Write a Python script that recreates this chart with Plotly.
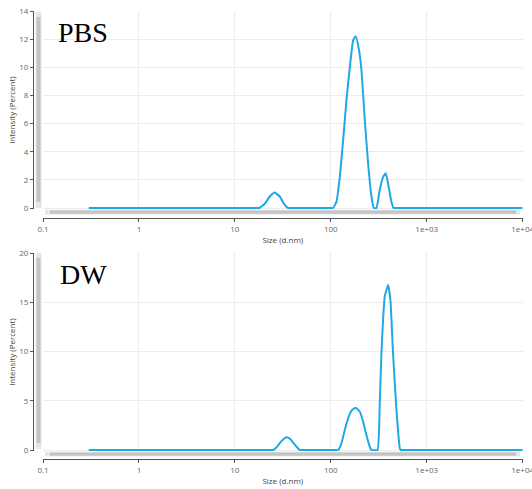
import plotly.graph_objects as go

# Size distribution by intensity (DLS), two dispersion media
pbs_size = [0.3, 16.5, 18, 20.5, 23, 26, 29.5, 32.5, 36, 39, 97, 105.6, 114.6, 124.1,
            134.4, 145.8, 157.8, 170.8, 182, 197.1, 208.9, 226.1, 244.7, 265.5,
            280.5, 299.3, 323.9, 350.6, 374.1, 395.3, 428.2, 452.6, 490, 10000]
pbs_int = [0, 0, 0, 0.3, 0.8, 1.1, 0.8, 0.3, 0, 0, 0, 0, 0.45, 2.2,
           4.8, 7.7, 10.0, 11.9, 12.2, 11.2, 9.8, 6.25, 3.2, 0.8,
           0, 0, 1.3, 2.2, 2.47, 1.75, 0.45, 0, 0, 0]

dw_size = [0.3, 23, 25.1, 27.4, 29.4, 32.0, 34.6, 37.4, 40.6, 44.2, 47.5, 51,
           110, 119.1, 129.1, 139.9, 151.5, 164.3, 182.0, 200.4, 217.0, 235.4,
           254.8, 265.5, 306.4, 323.6, 337.3, 350.6, 365.2, 395.3, 418.6, 445.6,
           483.5, 523.6, 535.9, 580, 10000]
dw_int = [0, 0, 0, 0.3, 0.7, 1.1, 1.29, 1.15, 0.75, 0.3, 0, 0,
          0, 0, 0.68, 2.03, 3.2, 4.0, 4.3, 3.9, 2.9, 1.5,
          0.35, 0, 0, 4.7, 9.8, 13.2, 15.6, 16.75, 15.2, 9.8,
          4.1, 0.2, 0, 0, 0]

x_tickvals = [0.1, 1, 10, 100, 1000, 10000]
x_ticktext = ["0.1", "1", "10", "100", "1e+03", "1e+04"]
pbs_yticks = [0, 2, 4, 6, 8, 10, 12, 14]
dw_yticks = [0, 5, 10, 15, 20]

W, H = 532, 489
LINE = "#1fa9e4"
GRID = "#ececec"
TICKFONT = dict(family="Open Sans, sans-serif", size=8, color="#666666")
TITLEFONT = dict(family="Open Sans, sans-serif", size=8, color="#444444")


def px(x):
    return x / W


def py(y):
    return 1 - y / H


fig = go.Figure()
fig.add_trace(go.Scatter(x=pbs_size, y=pbs_int, mode="lines", xaxis="x", yaxis="y",
                         line=dict(color=LINE, width=2, shape="spline", smoothing=0.4),
                         showlegend=False))
fig.add_trace(go.Scatter(x=dw_size, y=dw_int, mode="lines", xaxis="x2", yaxis="y2",
                         line=dict(color=LINE, width=2, shape="spline", smoothing=0.4),
                         showlegend=False))

xdom = [px(43), px(522.7)]
common_x = dict(type="log", range=[-1, 4.0005], domain=xdom, tickvals=x_tickvals,
                ticktext=x_ticktext, showgrid=True, gridcolor=GRID, gridwidth=1,
                zeroline=False, showline=True, linecolor="#555555", linewidth=1,
                ticks="outside", ticklen=3, tickcolor="#555555", tickfont=TICKFONT,
                ticklabeloverflow="allow", anchor="free", automargin=False,
                title=dict(text="Size (d.nm)", font=TITLEFONT, standoff=4))
common_y = dict(showgrid=True, gridcolor=GRID, gridwidth=1, zeroline=False,
                showline=True, linecolor="#555555", linewidth=1, ticks="outside",
                ticklen=3, tickcolor="#555555", tickfont=TICKFONT, anchor="free",
                position=px(33), automargin=False,
                title=dict(text="Intensity (Percent)", font=TITLEFONT, standoff=1))

# plot areas reach ~1.2 px below the zero line so the baseline is not clipped
fig.update_layout(
    width=W, height=H,
    margin=dict(l=0, r=0, t=0, b=0),
    paper_bgcolor="white", plot_bgcolor="white",
    xaxis=dict(common_x, position=py(218)),
    yaxis=dict(common_y, domain=[py(209.2), py(11)], range=[-0.085, 14],
               tickvals=pbs_yticks),
    xaxis2=dict(common_x, position=py(459)),
    yaxis2=dict(common_y, domain=[py(451.2), py(253)], range=[-0.122, 20],
                tickvals=dw_yticks),
)

# scrollbars of the viewer
shapes = []
for (vy0, vy1, hy0, hy1) in [(12, 208, 209.8, 214.5), (253, 449, 451.8, 456.5)]:
    shapes.append(dict(type="rect", xref="paper", yref="paper",
                       x0=px(35.5), x1=px(41.5), y0=py(vy1), y1=py(vy0),
                       fillcolor="#e6e6e6", line=dict(width=0), layer="above"))
    shapes.append(dict(type="rect", xref="paper", yref="paper",
                       x0=px(36.5), x1=px(40.5), y0=py(vy1 - 6), y1=py(vy0 + 5),
                       fillcolor="#c4c4c4", line=dict(width=0), layer="above"))
    shapes.append(dict(type="rect", xref="paper", yref="paper",
                       x0=px(45), x1=px(520), y0=py(hy1), y1=py(hy0),
                       fillcolor="#e6e6e6", line=dict(width=0), layer="above"))
    shapes.append(dict(type="rect", xref="paper", yref="paper",
                       x0=px(50), x1=px(516), y0=py(hy1 - 0.8), y1=py(hy0 + 0.8),
                       fillcolor="#c4c4c4", line=dict(width=0), layer="above"))
fig.update_layout(shapes=shapes)

SERIF = dict(family="Liberation Serif, Times New Roman, serif", size=28, color="black")
fig.add_annotation(text="PBS", x=px(56), y=py(15), xref="paper", yref="paper",
                   xanchor="left", yanchor="top", showarrow=False, font=SERIF)
fig.add_annotation(text="DW", x=px(58), y=py(256.5), xref="paper", yref="paper",
                   xanchor="left", yanchor="top", showarrow=False, font=SERIF)

fig.write_html("out.html")
